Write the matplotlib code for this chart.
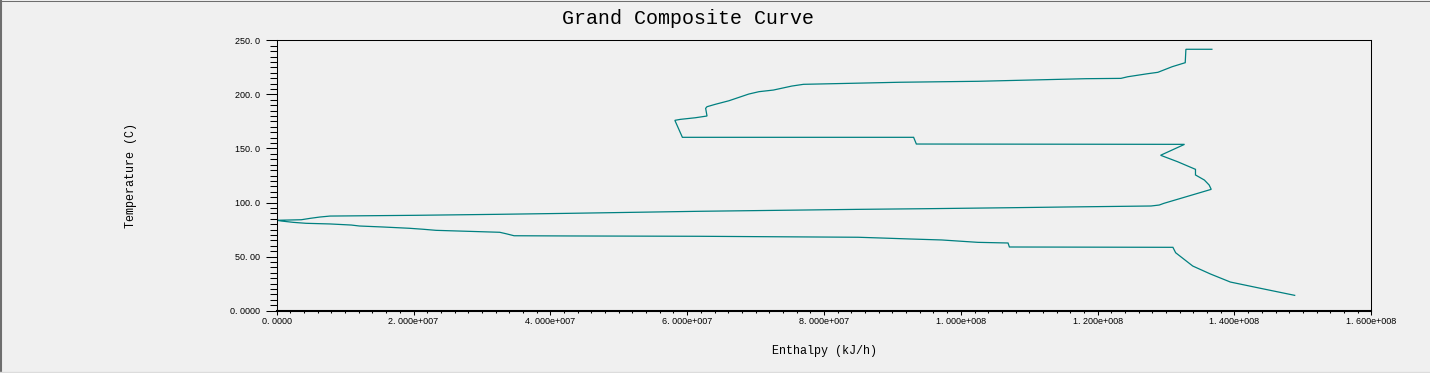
import matplotlib
matplotlib.use("Agg")
import matplotlib.pyplot as plt
from matplotlib.ticker import FixedLocator, FixedFormatter, MultipleLocator
from matplotlib.lines import Line2D

# Grand composite curve: enthalpy (in 1e6 kJ/h) vs temperature (C), traced top -> bottom
enthalpy_mkjh = [
    136.7, 132.9, 132.8, 130.9, 128.8, 127.3, 124.4, 123.4, 118.3, 102.5,
    91.0, 83.7, 77.0, 75.3, 72.6, 70.5, 69.0, 66.1, 64.1, 62.9,
    62.7, 62.9, 61.2, 59.0, 58.2, 59.3, 93.1, 93.5, 132.7, 129.2,
    131.7, 134.3, 134.3, 135.6, 136.3, 136.6, 129.7, 129.0, 127.8, 115.6,
    107.1, 94.8, 85.0, 61.7, 42.5, 32.3, 20.4, 7.8, 6.3, 4.9,
    3.6, 0.0, 0.7, 2.4, 4.3, 7.8, 10.9, 12.1, 15.5, 19.4,
    21.4, 23.3, 32.6, 33.5, 34.7, 42.8, 61.7, 85.0, 88.4, 92.6,
    97.2, 99.6, 102.5, 106.9, 107.1, 131.0, 131.4, 133.9, 136.5, 139.4,
    143.8, 148.8,
]
temperature_c = [
    241.7, 241.7, 229.3, 225.6, 220.4, 219.1, 216.3, 214.8, 214.5, 212.1,
    211.2, 210.2, 209.3, 207.7, 204.0, 202.5, 200.3, 194.1, 190.8, 188.6,
    187.1, 180.0, 178.4, 176.9, 176.0, 160.3, 160.3, 154.1, 153.8, 143.7,
    137.7, 130.7, 125.5, 120.8, 116.2, 112.2, 99.3, 97.7, 96.8, 95.9,
    95.2, 94.3, 93.7, 91.9, 90.0, 89.1, 88.2, 87.5, 86.6, 85.4,
    84.1, 83.6, 82.9, 81.7, 80.8, 80.2, 79.2, 78.3, 77.4, 76.2,
    75.3, 74.3, 72.5, 71.2, 69.3, 69.1, 68.8, 67.9, 67.2, 66.3,
    65.4, 64.4, 63.2, 62.6, 58.9, 58.6, 53.6, 41.3, 33.9, 26.5,
    20.7, 14.2,
]

x_ticks = [0, 2e7, 4e7, 6e7, 8e7, 1e8, 1.2e8, 1.4e8, 1.6e8]
x_tick_labels = ["0. 0000", "2. 000e+007", "4. 000e+007", "6. 000e+007", "8. 000e+007",
                 "1. 000e+008", "1. 200e+008", "1. 400e+008", "1. 600e+008"]
y_ticks = [0, 50, 100, 150, 200, 250]
y_tick_labels = ["0. 0000", "50. 00", "100. 0", "150. 0", "200. 0", "250. 0"]

title = "Grand Composite Curve"
x_label = "Enthalpy (kJ/h)"
y_label = "Temperature (C)"

W, H = 1430, 373
bg = "#f0f0f0"
fig = plt.figure(figsize=(W / 100, H / 100), dpi=100, facecolor=bg)
ax = fig.add_axes([276.7 / W, 1 - 310.7 / H, (1371.3 - 276.7) / W, (310.7 - 40.3) / H])
ax.set_facecolor(bg)

ax.plot([h * 1e6 for h in enthalpy_mkjh], temperature_c, color="#008080", lw=0.9,
        solid_joinstyle="miter")

ax.set_xlim(0, 1.6e8)
ax.set_ylim(0, 250)

ax.xaxis.set_major_locator(FixedLocator(x_ticks))
ax.xaxis.set_major_formatter(FixedFormatter(x_tick_labels))
ax.yaxis.set_major_locator(FixedLocator(y_ticks))
ax.yaxis.set_major_formatter(FixedFormatter(y_tick_labels))
ax.xaxis.set_minor_locator(MultipleLocator(2e6))
ax.yaxis.set_minor_locator(MultipleLocator(5))

for s in ["top", "right", "left"]:
    ax.spines[s].set_linewidth(0.75)
    ax.spines[s].set_color("black")
ax.spines["bottom"].set_linewidth(1.5)
ax.spines["bottom"].set_color("black")

ax.tick_params(axis="y", which="major", direction="out", length=7.7, width=0.75,
               pad=4.3, labelsize=6.5, colors="black")
ax.tick_params(axis="y", which="minor", direction="out", length=4.8, width=0.75)
ax.tick_params(axis="x", which="major", direction="out", length=3.0, width=0.75,
               pad=1.5, labelsize=6.5, colors="black")
ax.tick_params(axis="x", which="minor", direction="out", length=1.6, width=0.75)
for lbl in ax.get_xticklabels() + ax.get_yticklabels():
    lbl.set_fontfamily("Liberation Sans")

fig.text(687.5 / W, 1 - 18 / H, title, ha="center", va="center",
         fontsize=14.4, family="Liberation Mono", color="black")
fig.text(131 / W, 1 - 175 / H, y_label, ha="center", va="center", rotation=90,
         fontsize=8.5, family="Liberation Mono", color="black")
fig.text(824.5 / W, 1 - 351 / H, x_label, ha="center", va="center",
         fontsize=8.5, family="Liberation Mono", color="black")

# window frame edges
fig.add_artist(Line2D([0, 1], [1 - 0.5 / H] * 2, transform=fig.transFigure,
                      color="#6e6e6e", lw=0.75))
fig.add_artist(Line2D([1 / W] * 2, [0, 1], transform=fig.transFigure,
                      color="#6e6e6e", lw=1.5))
fig.add_artist(Line2D([0, 1], [1.2 / H] * 2, transform=fig.transFigure,
                      color="#dcdcdc", lw=1.0))

fig.savefig("out.png", dpi=100, facecolor=bg)
